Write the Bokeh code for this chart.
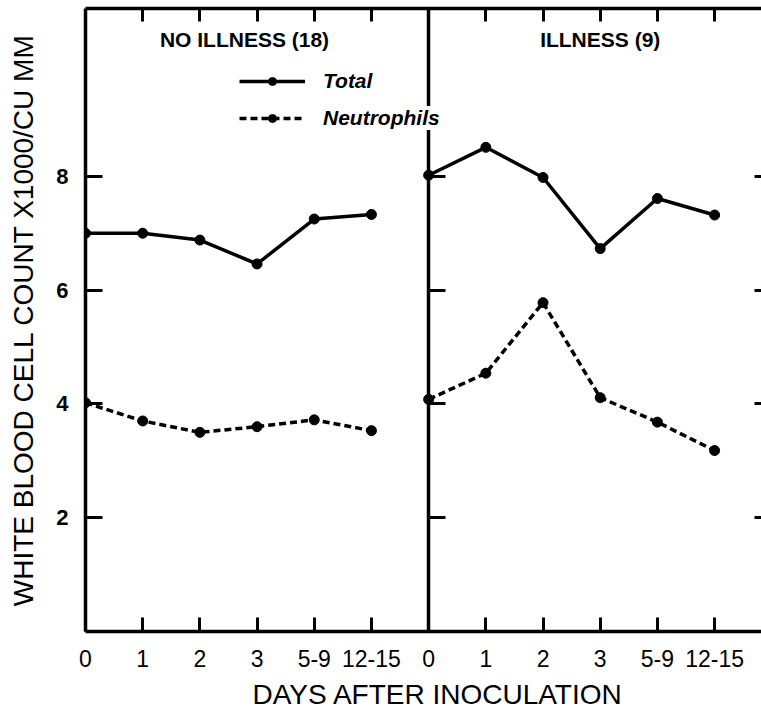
from bokeh.plotting import figure
from bokeh.models import LinearAxis, FixedTicker, Range1d, Legend, LegendItem, Label, Title
from bokeh.embed import file_html
from bokeh.resources import INLINE

# ---- data ----
categories = ["0", "1", "2", "3", "5-9", "12-15"]
panel_titles = ["NO ILLNESS (18)", "ILLNESS (9)"]
no_illness_total = [7.0, 7.0, 6.88, 6.46, 7.25, 7.33]
no_illness_neutrophils = [4.02, 3.70, 3.50, 3.60, 3.72, 3.53]
illness_total = [8.02, 8.51, 7.98, 6.73, 7.61, 7.32]
illness_neutrophils = [4.08, 4.54, 5.78, 4.11, 3.68, 3.18]
y_ticks = [2, 4, 6, 8]
x_title = "DAYS AFTER INOCULATION"
y_title = "WHITE BLOOD CELL COUNT X1000/CU MM"

FONT = "Liberation Sans"
n = len(categories)
left_x = list(range(n))
right_x = [n + i for i in range(n)]

p = figure(width=761, height=716, x_range=Range1d(0, 11.82), y_range=Range1d(0, 10.95),
           x_axis_type=None, y_axis_type=None, output_backend="svg", toolbar_location=None,
           min_border_left=85, min_border_right=0, min_border_top=8, min_border_bottom=84)
p.outline_line_color = None
p.background_fill_color = "white"
p.border_fill_color = "white"


def style(ax, tick_in, show_labels):
    ax.major_tick_in = tick_in
    ax.major_tick_out = 0
    ax.minor_tick_line_color = None
    ax.axis_line_width = 3.5
    ax.axis_line_color = "black"
    ax.major_tick_line_width = 3
    ax.major_tick_line_color = "black"
    if not show_labels:
        ax.major_label_text_color = None
        ax.major_label_text_font_size = "1px"
        ax.major_label_standoff = 0


# bottom axis with category labels for both panels
bottom = LinearAxis(ticker=FixedTicker(ticks=list(range(2 * n))),
                    major_label_overrides={i: categories[i % n] for i in range(2 * n)})
style(bottom, 14, True)
bottom.major_label_text_font = FONT
bottom.major_label_text_font_size = "23px"
bottom.major_label_text_color = "black"
bottom.major_label_standoff = 18
p.add_layout(bottom, "below")

# x-axis title, left-aligned where the reference starts it
p.add_layout(Title(text=x_title, align="left", offset=167, standoff=14,
                   text_font=FONT, text_font_size="28px", text_font_style="normal",
                   text_color="black"), "below")

# left axis
left = LinearAxis(ticker=FixedTicker(ticks=y_ticks), axis_label=y_title)
style(left, 17, True)
left.major_label_text_font = FONT
left.major_label_text_font_size = "22px"
left.major_label_text_font_style = "bold"
left.major_label_text_color = "black"
left.major_label_standoff = 17
left.axis_label_text_font = FONT
left.axis_label_text_font_size = "28px"
left.axis_label_text_font_style = "normal"
left.axis_label_text_color = "black"
left.axis_label_standoff = 14
p.add_layout(left, "left")

# divider between the two panels
divider = LinearAxis(ticker=FixedTicker(ticks=y_ticks), fixed_location=n)
style(divider, 17, False)
p.add_layout(divider, "left")

# top border with inward ticks
top = LinearAxis(ticker=FixedTicker(ticks=[i for i in range(2 * n) if i % n != 0]))
style(top, 13, False)
p.add_layout(top, "above")

# right border (cut off at the image edge)
right = LinearAxis(ticker=FixedTicker(ticks=y_ticks), fixed_location=2 * n)
style(right, 17, False)
p.add_layout(right, "right")

# ---- series ----
LW = 3.5
DASH = "7 4"
lt1 = p.line(left_x, no_illness_total, line_width=LW, line_color="black")
st1 = p.scatter(left_x, no_illness_total, size=10, color="black")
ln1 = p.line(left_x, no_illness_neutrophils, line_width=LW, line_color="black", line_dash=DASH)
sn1 = p.scatter(left_x, no_illness_neutrophils, size=10, color="black")
p.line(right_x, illness_total, line_width=LW, line_color="black")
p.scatter(right_x, illness_total, size=10, color="black")
p.line(right_x, illness_neutrophils, line_width=LW, line_color="black", line_dash=DASH)
p.scatter(right_x, illness_neutrophils, size=10, color="black")


def make_legend(label, renderers, loc, bg_alpha):
    return Legend(items=[LegendItem(label=label, renderers=renderers)], location=loc,
                  glyph_width=66, glyph_height=20, label_height=20, label_standoff=18,
                  padding=0, margin=0, border_line_color=None,
                  background_fill_color="white", background_fill_alpha=bg_alpha,
                  label_text_font=FONT, label_text_font_style="bold italic",
                  label_text_font_size="21px", label_text_color="black")


p.add_layout(make_legend("Total", [lt1, st1], (154, 538), 0.0))
p.add_layout(make_legend("Neutrophils", [ln1, sn1], (154, 501), 1.0))

# panel titles
for title, xc in zip(panel_titles, [2.78, 9.0]):
    p.add_layout(Label(x=xc, y=10.4, text=title, text_align="center", text_baseline="middle",
                       text_font=FONT, text_font_style="bold", text_font_size="21px",
                       text_color="black"))

open("out.html", "w").write(file_html(p, INLINE))
